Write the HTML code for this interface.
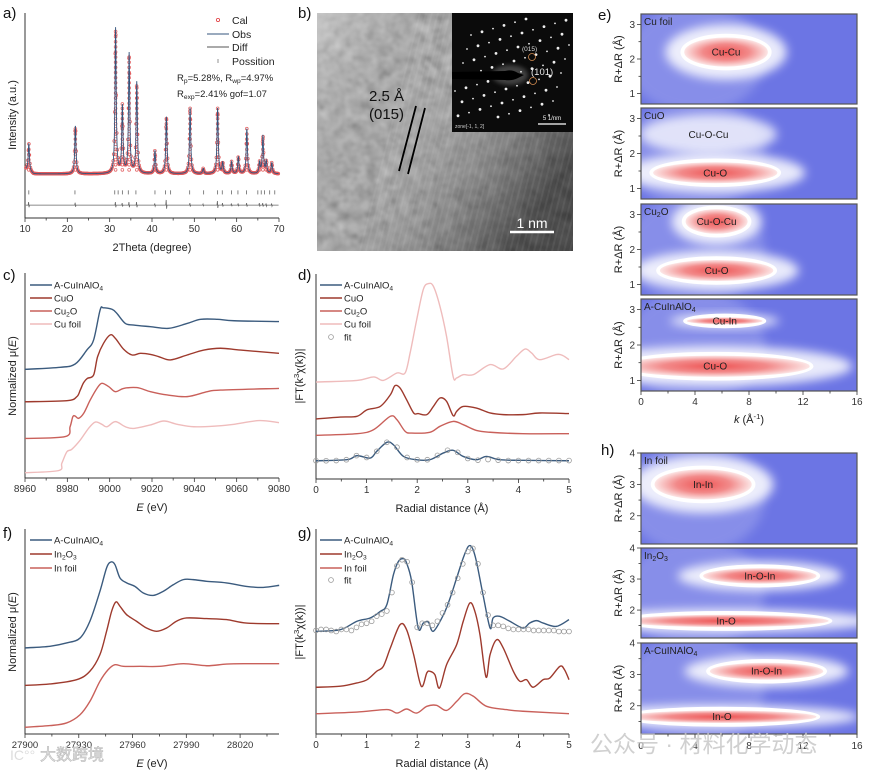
<!DOCTYPE html>
<html><head><meta charset="utf-8"><style>
html,body{margin:0;padding:0;background:#fff;}
svg{display:block;font-family:"Liberation Sans","Noto Sans CJK SC",sans-serif;}
</style></head><body>
<svg id="fig" width="869" height="775" viewBox="0 0 869 775">
<defs>
<filter id="blur5" x="-50%" y="-50%" width="200%" height="200%"><feGaussianBlur stdDeviation="5"/></filter>
<filter id="blur2" x="-50%" y="-50%" width="200%" height="200%"><feGaussianBlur stdDeviation="2"/></filter>
<filter id="tem" x="0" y="0" width="100%" height="100%"><feTurbulence type="fractalNoise" baseFrequency="0.09" numOctaves="2" seed="3"/><feColorMatrix type="matrix" values="0.33 0.33 0.33 0 0 0.33 0.33 0.33 0 0 0.33 0.33 0.33 0 0 0 0 0 0 1"/></filter>
<radialGradient id="redGrad"><stop offset="0" stop-color="#ee5555"/><stop offset="0.55" stop-color="#f28a8a"/><stop offset="1" stop-color="#fce6e6"/></radialGradient>
<linearGradient id="temShade" x1="0" y1="0" x2="1" y2="0.6"><stop offset="0" stop-color="#fff" stop-opacity="0.35"/><stop offset="0.45" stop-color="#888" stop-opacity="0"/><stop offset="1" stop-color="#000" stop-opacity="0.55"/></linearGradient>
</defs>
</svg>
<script>
// ---------- DATA ----------
const xrdPeakPos=[10.9,21.9,31.4,33.0,34.6,36.4,40.7,43.4,49.0,52.1,55.5,56.7,58.8,60.4,62.4,65.4,66.2,67.0,68.3];
const xrdPeakHeight=[35,45,92.5,54,80,66,32.7,49.3,53.7,24,53.7,26.8,27.3,29.8,43.4,26.8,40,27.3,26.8];
const xrdBaseline=21.5;
const xrdTickPos=[10.9,21.8,31.2,32,33,34.4,36.2,40.7,43.2,44.4,48.9,52.2,55.5,56.6,58.8,60.3,62.3,65,65.8,66.6,67.8,69];
const xrdDiffAmp=[1.5,1.2,1.5,1,1.5,1.5,0.8,2.5,1,0.5,2,1,0.8,0.8,1,1,1,0.8,0.8];
const xrdXTicks=[10,20,30,40,50,60,70];

const cX_blue=[8960,8976.6,8983.7,8989.2,8992.4,8995.5,8997.1,9001.1,9003.4,9007.4,9011.4,9019.3,9027.9,9036.6,9043,9050.9,9058.8,9080];
const cY_blue=[53,54,55.6,62.4,67.3,82,83,82.3,80.3,75.4,74.6,73.8,73,75.4,77.4,77.4,76.7,76.3];
const cX_cuo=[8960,8979.8,8984.5,8986.1,8987.7,8989.5,8992.4,8994.3,8997.1,9000.3,9002.7,9006.6,9010.6,9014.5,9019.3,9023.2,9028.7,9036.6,9044.5,9052.4,9061.9,9080];
const cY_cuo=[37.2,37.7,39.7,42.9,46.5,48.6,50.2,59.2,65.7,69.8,68.1,62.8,60,60.8,60.3,59.2,57.6,60,62.4,63.3,62.4,60.8];
const cX_cu2o=[8960,8979,8981.3,8982.6,8983.7,8985.3,8987.7,8990.8,8994,8996.3,8999.5,9002.7,9006.6,9012.9,9019.3,9027.2,9036.6,9046.1,9052.4,9080];
const cY_cu2o=[19.3,20.2,25,29.9,30.2,29.1,31.5,38,43.7,46.2,44.6,42.1,43.7,44.1,42.1,40.5,39.7,42.1,42.9,43.7];
const cX_cufoil=[8960,8975.8,8977.4,8979.8,8982.1,8986.1,8990,8993.2,8996.3,8998.7,9002.7,9007.4,9011.4,9019.3,9025.6,9031.9,9039.8,9050.9,9058.8,9070.6,9080];
const cY_cufoil=[2.6,3.6,7.2,12.8,14,18.5,24.2,27.3,26.2,25,27.5,25,24.2,25.9,27.8,26.2,25,25.4,26.2,28,27];
const cXTicks=[8960,8980,9000,9020,9040,9060,9080];

const dX_cufoil=[0,0.81,1.14,1.33,1.6,1.76,1.86,1.99,2.12,2.22,2.32,2.45,2.58,2.71,2.78,2.91,3.11,3.44,3.7,3.96,4.13,4.26,4.42,4.75,4.88,5];
const dY_cufoil=[47.3,48.1,49.8,48.1,51.7,51.7,61.5,77.7,92.4,95.3,94,84.2,69.6,50,49.3,50.9,50.9,55.8,53.7,59.8,63.4,61.5,58.2,60.7,60.2,58.2];
const dX_cuo=[0,0.48,0.81,1.01,1.27,1.47,1.56,1.66,1.79,1.93,2.02,2.19,2.32,2.45,2.58,2.71,2.78,2.91,3.17,3.44,3.7,4.09,4.42,5];
const dY_cuo=[29.3,30.2,30.6,33.8,35.4,41.1,45.5,44.4,38.7,32.2,31.9,31.4,35.4,39.5,37.9,30.9,33,35.4,34.6,32.2,31.4,31.4,32.2,31.9];
const dX_cu2o=[0,0.81,1.14,1.47,1.6,1.76,1.89,2.25,2.45,2.71,2.91,3.17,3.44,4.09,5];
const dY_cu2o=[21.3,22.1,24.1,30.6,28.9,23.3,22.4,22.8,25.7,28.1,26.5,23.7,22.8,22.1,22.1];
const dX_blue=[0,0.61,0.81,1.07,1.2,1.4,1.53,1.73,1.99,2.25,2.52,2.71,2.91,3.17,3.37,3.63,4.09,5];
const dY_blue=[8.9,9.4,11.4,10.2,13.5,17.9,16.7,11,9.4,9.4,12.7,14,11,9.4,11,9.4,9.1,8.9];
const dX_fit=[0,0.2,0.4,0.6,0.8,1.0,1.2,1.4,1.6,1.8,2.0,2.2,2.4,2.6,2.8,3.0,3.2,3.4,3.6,3.8,4.0,4.2,4.4,4.6,4.8,5.0];
const dY_fit=[8.9,8.9,9,9.4,11.4,10.5,13.5,17.9,15.5,10.5,9.4,9.4,11.5,14,13,10,9.2,9.5,9.2,9,9,9,9,9,9,9];
const rXTicks=[0,1,2,3,4,5];

const fX_blue=[27900,27913.9,27923.2,27930.7,27936.2,27941.8,27945.5,27947.9,27950.2,27953,27956.7,27961.3,27966,27971.5,27977.1,27982.7,27988.3,27993.8,28001.3,28012.4,28023.6,28032.9,28041.8];
const fY_blue=[42,42.8,44.4,46.8,55,69.6,81,83.9,82.6,76.1,73.7,72,68.8,67.6,69.6,72.8,75.3,75.3,74.5,73.7,72,71.5,72.5];
const fX_in2o3=[27900,27913.9,27928.8,27936.2,27941.8,27945.5,27948.3,27950.7,27953,27956.7,27962.2,27967.8,27973.4,27979,27984.5,27990.1,28001.3,28012.4,28023.6,28041.8];
const fY_in2o3=[23.7,24.4,26.5,30.6,38.7,50.1,59.8,64.4,62.3,58.2,55,51.7,50.1,51.7,55,56.6,56.3,55.8,54.1,53.8];
const fX_infoil=[27900,27913.9,27923.2,27930.7,27936.2,27941.8,27946.4,27950.2,27954.8,27964.1,27975.2,27988.3,28001.3,28012.4,28023.6,28041.8];
const fY_infoil=[3.3,4.1,5.4,9.4,15.9,25.7,31.4,33.8,33,33,33,34.3,33.3,34.1,34.3,34.3];
const fXTicks=[27900,27930,27960,27990,28020];

const gX_blue=[0,0.48,0.81,1.07,1.27,1.4,1.53,1.63,1.73,1.79,1.89,2.02,2.12,2.22,2.32,2.52,2.65,2.78,2.91,3.01,3.09,3.17,3.3,3.44,3.5,3.63,3.83,4.09,4.22,4.36,4.49,4.75,5];
const gY_blue=[50.1,50.9,55,56.6,59.8,63.1,77.7,84.2,85.5,83.4,74.5,51.7,54.1,54.6,50.1,58.2,66.3,76.1,85.9,91.5,90.7,84.2,68,51.7,56.6,57.4,55,51.7,54.1,55.3,54.1,52.5,55.8];
const gX_fit=[0,0.1,0.2,0.3,0.4,0.5,0.6,0.7,0.8,0.9,1.0,1.1,1.2,1.3,1.4,1.5,1.6,1.7,1.8,1.9,2.0,2.1,2.2,2.3,2.4,2.5,2.6,2.7,2.8,2.9,3.0,3.1,3.2,3.3,3.4,3.5,3.6,3.7,3.8,3.9,4.0,4.1,4.2,4.3,4.4,4.5,4.6,4.7,4.8,4.9,5.0];
const gY_fit=[50.5,51,51,50.5,50,51,51,50.5,52,53.5,54,55,57.5,58.5,60,69,82,85,84,74,52,54,54,53,55,59,63,69,76,83,89,90.5,83,69,58,53,53,52.5,51.5,51,51,51,51,50.5,50.5,50.5,50.5,50.5,50,50,50];
const gX_in2o3=[0,0.48,0.81,1.01,1.2,1.33,1.47,1.66,1.79,1.93,2.08,2.19,2.25,2.35,2.44,2.58,2.78,2.91,3.04,3.14,3.24,3.36,3.44,3.57,3.7,3.9,4.03,4.16,4.29,4.49,4.62,4.82,4.91,5];
const gY_in2o3=[22.8,23.3,24.9,26.5,30.6,33,42,53.3,50.9,38.7,23.3,29.8,30.6,28.9,22.4,33.8,43.6,55,63.9,59.8,48.5,27.8,38.7,46,42,30.6,25.7,26.5,22.8,26.5,27.3,33,31.4,26.5];
const gX_infoil=[0,0.81,1.4,1.6,1.79,1.99,2.19,2.38,2.58,2.78,2.94,3.11,3.37,3.76,4.09,5];
const gY_infoil=[9.9,10.7,11.9,10.2,12.2,10.2,13.5,14,11.5,15.9,19.7,18.4,13.5,11.9,11.1,9.9];

const eNames=['Cu foil','CuO','Cu2O','A-CuInAlO4'];
const eFeatPanel=[0,1,1,2,2,3,3];
const eFeatLabel=['Cu-Cu','Cu-O-Cu','Cu-O','Cu-O-Cu','Cu-O','Cu-In','Cu-O'];
const eFeatK=[6.3,5,5.5,5.6,5.6,6.2,5.5];
const eFeatR=[2.2,2.55,1.45,2.8,1.4,2.68,1.4];
const eFeatKw=[3.1,3.5,4.6,2.3,4.2,2.8,7.0];
const eFeatRw=[0.42,0.3,0.3,0.35,0.3,0.1,0.3];
const eFeatRed=[1,0,1,1,1,1,1];
const eKTicks=[0,4,8,12,16];
const eRTicks=[1,2,3];

const hNames=['In foil','In2O3','A-CuINAlO4'];
const hFeatPanel=[0,1,1,2,2];
const hFeatLabel=['In-In','In-O-In','In-O','In-O-In','In-O'];
const hFeatK=[4.6,8.8,6.3,9.3,6.0];
const hFeatR=[3.0,3.1,1.65,3.1,1.65];
const hFeatKw=[3.6,4.2,7.6,4.2,7.0];
const hFeatRw=[0.48,0.25,0.2,0.27,0.2];
const hFeatRed=[1,1,1,1,1];
const hRTicks=[2,3,4];

// ---------- HELPERS ----------
const NS='http://www.w3.org/2000/svg';
const svg=document.getElementById('fig');
function mk(tag,parent){const e=document.createElementNS(NS,tag);parent.appendChild(e);return e;}
function set(e,o){for(const k in o)e.setAttribute(k,o[k]);return e;}
function lin(d0,d1,r0,r1){return v=>r0+(v-d0)/(d1-d0)*(r1-r0);}
function smoothPath(pts){
  if(pts.length<2)return '';
  let d='M'+pts[0][0].toFixed(2)+','+pts[0][1].toFixed(2);
  for(let i=0;i<pts.length-1;i++){
    const p0=pts[Math.max(0,i-1)],p1=pts[i],p2=pts[i+1],p3=pts[Math.min(pts.length-1,i+2)];
    const c1=[p1[0]+(p2[0]-p0[0])/6,p1[1]+(p2[1]-p0[1])/6];
    const c2=[p2[0]-(p3[0]-p1[0])/6,p2[1]-(p3[1]-p1[1])/6];
    d+='C'+c1[0].toFixed(2)+','+c1[1].toFixed(2)+' '+c2[0].toFixed(2)+','+c2[1].toFixed(2)+' '+p2[0].toFixed(2)+','+p2[1].toFixed(2);
  }
  return d;
}
function txt(parent,x,y,s,size,anchor,fill){
  const t=mk('text',parent);
  set(t,{x:x,y:y,'font-size':size,'text-anchor':anchor||'start',fill:fill||'#222'});
  t.textContent=s;return t;
}
function subTxt(parent,x,y,parts,size,anchor){
  const t=mk('text',parent);
  set(t,{x:x,y:y,'font-size':size,'text-anchor':anchor||'start',fill:'#222'});
  parts.forEach(p=>{const s=mk('tspan',t);s.textContent=p[0];if(p[1]==='sub'){set(s,{'font-size':size*0.7,dy:2});}else if(p[1]==='back'){set(s,{dy:-2});}else if(p[1]==='sup'){set(s,{'font-size':size*0.7,dy:-4});}else if(p[1]==='supback'){set(s,{dy:4});}});
  return t;
}
function bottomAxis(g,x0,x1,yb,sx,ticks,minorStep,fmt){
  const ax=mk('path',g);
  
  
  set(ax,{d:`M${x0},${yb}H${x1}`,stroke:'#333','stroke-width':1,fill:'none'});
  const d0=ticks[0],d1=ticks[ticks.length-1];
  for(let v=d0;v<=d1+1e-9;v+=minorStep){
    const x=sx(v);const major=ticks.some(t=>Math.abs(t-v)<1e-6);
    const tk=mk('line',g);
    
    
    set(tk,{x1:x,x2:x,y1:yb,y2:yb+(major?4:2.5),stroke:'#333','stroke-width':0.8});
  }
  ticks.forEach(v=>{const t=txt(g,sx(v),yb+14,fmt?fmt(v):String(v),10,'middle','#333');
    
    });
}
function leftAxis(g,x,y0,y1){
  const ax=mk('path',g);
  
  
  set(ax,{d:`M${x},${y0}V${y1}`,stroke:'#333','stroke-width':1,fill:'none'});
}
function yTitle(g,x,yc,parts){
  const t=subTxt(g,0,0,parts,11,'middle');
  set(t,{transform:`translate(${x},${yc}) rotate(-90)`});
  
  
  return t;
}
function drawLine(g,xs,ys,sx,sy,color,w,name){
  const p=mk('path',g);
  
  
  set(p,{d:smoothPath(xs.map((x,i)=>[sx(x),sy(ys[i])])),stroke:color,'stroke-width':w||1.3,fill:'none'});
  return p;
}
function drawCircles(g,xs,ys,sx,sy,name){
  xs.forEach((x,i)=>{const c=mk('circle',g);
    
    
    set(c,{cx:sx(x),cy:sy(ys[i]),r:2.4,fill:'none',stroke:'#9a9a9a','stroke-width':0.8});});
}
function legendLine(g,x,y,color,parts){
  const l=mk('line',g);
  
  
  set(l,{x1:x,x2:x+22,y1:y,y2:y,stroke:color,'stroke-width':1.6});
  const t=subTxt(g,x+24,y+3.5,parts,9.5);
  
  
}
function legendCircle(g,x,y,label){
  const c=mk('circle',g);
  
  
  set(c,{cx:x+11,cy:y,r:2.4,fill:'none',stroke:'#999','stroke-width':0.8});
  const t=txt(g,x+24,y+3.5,label,9.5);
  
  
}
function panelLetter(x,y,s){const t=txt(svg,x,y,s,15,'start','#111');
  
  }

const BLUE='#3b5b7e',DRED='#9e3a2d',MRED='#c9605a',PINK='#efbcbc';
const chemCuInAl=[['A-CuInAlO',''],['4','sub']];

// ---------- PANEL A: XRD ----------
(function(){
  const g=mk('g',svg);
  
  
  const sx=lin(10,70,25,279), sy=lin(0,100,218,13);
  leftAxis(g,25,13,218);
  bottomAxis(g,25,279,218,sx,xrdXTicks,5);
  const tt=txt(g,152,251,'2Theta (degree)',11,'middle','#222');
  
  
  yTitle(g,16,115,[['Intensity (a.u.)','']]);
  function inten(x){let v=xrdBaseline+ (x<12?1.2*(12-x):0);
    xrdPeakPos.forEach((p,i)=>{const w=0.17;v+=(xrdPeakHeight[i]-xrdBaseline)/(1+((x-p)/w)**2);});return v;}
  const xs=[],ys=[];
  for(let x=10.2;x<=69.9;x+=0.04){xs.push(x);ys.push(inten(x));}
  const cg=mk('g',g);
  
  
  for(let i=0;i<xs.length;i+=3){const c=mk('circle',cg);
    
    
    set(c,{cx:sx(xs[i]).toFixed(2),cy:sy(ys[i]).toFixed(2),r:1.4,fill:'none',stroke:'#e05a5c','stroke-width':0.7});}
  xrdPeakPos.forEach((p,i)=>{for(let v=xrdBaseline+2;v<xrdPeakHeight[i];v+=2.5){const c=mk('circle',cg);
    
    
    set(c,{cx:sx(p).toFixed(2),cy:sy(v).toFixed(2),r:1.4,fill:'none',stroke:'#e05a5c','stroke-width':0.7});}});
  const ob=mk('path',g);
  
  
  set(ob,{d:'M'+xs.map((x,i)=>sx(x).toFixed(2)+','+sy(ys[i]).toFixed(2)).join('L'),stroke:'#34557d','stroke-width':0.9,fill:'none'});
  xrdTickPos.forEach(p=>{const l=mk('line',g);
    
    
    set(l,{x1:sx(p),x2:sx(p),y1:sy(13.5),y2:sy(11.5),stroke:'#666','stroke-width':0.8});});
  const dpts=[[10.2,6.3]];
  xrdPeakPos.forEach((p,i)=>{dpts.push([p-0.15,6.3]);dpts.push([p-0.05,6.3+xrdDiffAmp[i]]);dpts.push([p+0.05,6.3-xrdDiffAmp[i]*0.7]);dpts.push([p+0.15,6.3]);});
  dpts.push([69.9,6.3]);
  const df=mk('path',g);
  
  
  set(df,{d:'M'+dpts.map(p=>sx(p[0]).toFixed(2)+','+sy(p[1]).toFixed(2)).join('L'),stroke:'#666','stroke-width':0.8,fill:'none'});
  const lg=mk('g',g);
  
  
  const c0=mk('circle',lg);
  set(c0,{cx:218,cy:20,r:1.6,fill:'none',stroke:'#e0383c','stroke-width':0.8});
  txt(lg,232,24,'Cal',10.5);
  const l1=mk('line',lg);
  set(l1,{x1:207,x2:229,y1:34,y2:34,stroke:'#34557d','stroke-width':1});
  txt(lg,232,38,'Obs',10.5);
  const l2=mk('line',lg);
  set(l2,{x1:207,x2:229,y1:47,y2:47,stroke:'#555','stroke-width':1});
  txt(lg,232,51,'Diff',10.5);
  const l3=mk('line',lg);
  set(l3,{x1:218,x2:218,y1:59,y2:63,stroke:'#777','stroke-width':0.8});
  txt(lg,232,65,'Possition',10.5);
  const r1=subTxt(lg,177,81,[['R',''],['p','sub'],['=5.28%, R','back'],['wp','sub'],['=4.97%','back']],9.5);
  
  const r2=subTxt(lg,177,97,[['R',''],['exp','sub'],['=2.41% gof=1.07','back']],9.5);
  
})();
panelLetter(3,18,'a)');

// ---------- PANEL B: TEM ----------
(function(){
  const g=mk('g',svg);
  
  
  const bg=mk('rect',g);
  set(bg,{x:317,y:13,width:256,height:238,fill:'#8a8a8a'});
  const n=mk('rect',g);
  set(n,{x:317,y:13,width:256,height:238,filter:'url(#tem)',opacity:0.6});
  const sh=mk('rect',g);
  set(sh,{x:317,y:13,width:256,height:238,fill:'url(#temShade)'});
  for(let i=0;i<40;i++){const l=mk('line',g);
    const x=380+i*6;set(l,{x1:x+40,y1:13,x2:x-20,y2:251,stroke:'#fff','stroke-opacity':0.06,'stroke-width':2});}
  const ins=mk('rect',g);
  set(ins,{x:452,y:13,width:121,height:119,fill:'#0b0b0b'});
  const halo=mk('ellipse',g);
  set(halo,{cx:510,cy:75,rx:18,ry:10,fill:'#777',opacity:0.5,filter:'url(#blur2)'});
  for(let r=-4;r<=4;r++){for(let j=-5;j<=5;j++){
    const cx=510+j*11+r*-4, cy=75+r*14+j*-3.2;
    if(cx<455||cx>570||cy<16||cy>118)continue;
    const d=mk('circle',g);
    set(d,{cx:cx,cy:cy,r:(j%2===0?1.4:0.9),fill:'#eee'});}}
  const st=mk('path',g);
  set(st,{d:'M452,72L505,71Q512,69 518,73L524,75L518,78Q512,81 505,80L452,79Z',fill:'#000'});
  const c1=mk('circle',g);
  set(c1,{cx:532,cy:57,r:3.5,fill:'none',stroke:'#d08a50','stroke-width':0.8});
  const c2=mk('circle',g);
  set(c2,{cx:533,cy:81,r:3.5,fill:'none',stroke:'#d08a50','stroke-width':0.8});
  txt(g,522,51,'(015)',6.5,'start','#ddd');
  txt(g,531,75,'(101)',9.5,'start','#eee');
  txt(g,455,128,'zone[-1, 1, 2]',5,'start','#ccc');
  const sb=mk('line',g);
  set(sb,{x1:538,x2:566,y1:124,y2:124,stroke:'#fff','stroke-width':1.2});
  txt(g,552,120,'5 1/nm',6,'middle','#eee');
  txt(g,369,101,'2.5 Å',15,'start','#111');
  txt(g,369,119,'(015)',15,'start','#111');
  const m1=mk('line',g);
  set(m1,{x1:416,y1:106,x2:399,y2:171,stroke:'#000','stroke-width':1.8});
  const m2=mk('line',g);
  set(m2,{x1:425,y1:108,x2:408,y2:174,stroke:'#000','stroke-width':1.8});
  const s2=mk('line',g);
  set(s2,{x1:510,x2:554,y1:232,y2:232,stroke:'#fff','stroke-width':2.5});
  txt(g,532,228,'1 nm',14,'middle','#fff');
})();
panelLetter(298,18,'b)');

// ---------- PANEL C ----------
(function(){
  const g=mk('g',svg);
  
  
  const sx=lin(8960,9080,25,279), sy=lin(0,100,478,273);
  leftAxis(g,25,273,478);
  bottomAxis(g,25,279,478,sx,cXTicks,10);
  const t=subTxt(g,152,511,[['E','i'],[' (eV)','']],11,'middle');
  t.firstChild.setAttribute('font-style','italic');
  
  const yt=yTitle(g,16,376,[['Normalized μ(',''],['E',''],[')','']]);
  yt.childNodes[1].setAttribute('font-style','italic');
  drawLine(g,cX_cufoil,cY_cufoil,sx,sy,PINK,1.4,'cu-foil-line');
  drawLine(g,cX_cu2o,cY_cu2o,sx,sy,MRED,1.4,'cu2o-line');
  drawLine(g,cX_cuo,cY_cuo,sx,sy,DRED,1.4,'cuo-line');
  drawLine(g,cX_blue,cY_blue,sx,sy,BLUE,1.4,'a-cuinalo4-line');
  legendLine(g,30,285,BLUE,chemCuInAl);
  legendLine(g,30,298,DRED,[['CuO','']]);
  legendLine(g,30,311,MRED,[['Cu',''],['2','sub'],['O','back']]);
  legendLine(g,30,324,PINK,[['Cu foil','']]);
})();
panelLetter(3,280,'c)');

// ---------- PANEL D ----------
(function(){
  const g=mk('g',svg);
  
  
  const sx=lin(0,5,316,569), sy=lin(0,100,479,274);
  leftAxis(g,316,274,479);
  bottomAxis(g,316,569,479,sx,rXTicks,0.5);
  const t=txt(g,442,512,'Radial distance (Å)',11,'middle');
  
  yTitle(g,303,376,[['|FT(',''],['k',''],['3','sup'],['χ(','supback'],['k',''],['))|','']]);
  drawLine(g,dX_cufoil,dY_cufoil,sx,sy,PINK,1.4,'cu-foil-ft-line');
  drawLine(g,dX_cuo,dY_cuo,sx,sy,DRED,1.4,'cuo-ft-line');
  drawLine(g,dX_cu2o,dY_cu2o,sx,sy,MRED,1.4,'cu2o-ft-line');
  drawLine(g,dX_blue,dY_blue,sx,sy,BLUE,1.4,'a-cuinalo4-ft-line');
  drawCircles(g,dX_fit,dY_fit,sx,sy,'fit-point');
  legendLine(g,320,285,BLUE,chemCuInAl);
  legendLine(g,320,298,DRED,[['CuO','']]);
  legendLine(g,320,311,MRED,[['Cu',''],['2','sub'],['O','back']]);
  legendLine(g,320,324,PINK,[['Cu foil','']]);
  legendCircle(g,320,337,'fit');
})();
panelLetter(298,280,'d)');

// ---------- PANEL F ----------
(function(){
  const g=mk('g',svg);
  
  
  const sx=lin(27900,28041.7,25,279), sy=lin(0,100,734,529);
  leftAxis(g,25,529,734);
  const ticks=[27900,27915,27930,27945,27960,27975,27990,28005,28020,28035];
  const ax=mk('path',g);
  set(ax,{d:'M25,734H279',stroke:'#333','stroke-width':1});
  ticks.forEach(v=>{const major=fXTicks.includes(v);const l=mk('line',g);
    
    
    set(l,{x1:sx(v),x2:sx(v),y1:734,y2:734+(major?4:2.5),stroke:'#333','stroke-width':0.8});});
  fXTicks.forEach(v=>{const t=txt(g,sx(v),748,String(v),9.5,'middle','#333');
    });
  const t=subTxt(g,152,767,[['E',''],[' (eV)','']],11,'middle');
  t.firstChild.setAttribute('font-style','italic');
  
  const yt=yTitle(g,16,632,[['Normalized μ(',''],['E',''],[')','']]);
  yt.childNodes[1].setAttribute('font-style','italic');
  drawLine(g,fX_infoil,fY_infoil,sx,sy,MRED,1.4,'in-foil-line');
  drawLine(g,fX_in2o3,fY_in2o3,sx,sy,DRED,1.4,'in2o3-line');
  drawLine(g,fX_blue,fY_blue,sx,sy,BLUE,1.4,'a-cuinalo4-in-line');
  legendLine(g,30,540,BLUE,chemCuInAl);
  legendLine(g,30,554,DRED,[['In',''],['2','sub'],['O','back'],['3','sub']]);
  legendLine(g,30,568,MRED,[['In foil','']]);
})();
panelLetter(3,538,'f)');

// ---------- PANEL G ----------
(function(){
  const g=mk('g',svg);
  
  
  const sx=lin(0,5,316,569), sy=lin(0,100,734,529);
  leftAxis(g,316,529,734);
  bottomAxis(g,316,569,734,sx,rXTicks,0.5);
  const t=txt(g,442,767,'Radial distance (Å)',11,'middle');
  
  yTitle(g,303,632,[['|FT(',''],['k',''],['3','sup'],['χ(','supback'],['k',''],['))|','']]);
  drawLine(g,gX_infoil,gY_infoil,sx,sy,MRED,1.4,'in-foil-ft-line');
  drawLine(g,gX_in2o3,gY_in2o3,sx,sy,DRED,1.4,'in2o3-ft-line');
  drawLine(g,gX_blue,gY_blue,sx,sy,BLUE,1.4,'a-cuinalo4-in-ft-line');
  drawCircles(g,gX_fit,gY_fit,sx,sy,'fit-point');
  legendLine(g,320,540,BLUE,chemCuInAl);
  legendLine(g,320,554,DRED,[['In',''],['2','sub'],['O','back'],['3','sub']]);
  legendLine(g,320,568,MRED,[['In foil','']]);
  legendCircle(g,320,580,'fit');
})();
panelLetter(298,538,'g)');

// ---------- WAVELET PANELS ----------
let clipId=0;
function wavelet(g,x0,x1,y0,y1,rMin,rMax,rTicks,name,fp,fl,fk,fr,fkw,frw,fred,idx,nameParts){
  const sk=lin(0,16,x0,x1), sr=lin(rMin,rMax,y1,y0);
  const pg=mk('g',g);
  
  
  const cp=mk('clipPath',pg);const cid='wc'+(clipId++);cp.setAttribute('id',cid);
  const cr=mk('rect',cp);set(cr,{x:x0,y:y0,width:x1-x0,height:y1-y0});
  const inner=mk('g',pg);inner.setAttribute('clip-path','url(#'+cid+')');
  const bg=mk('rect',inner);
  set(bg,{x:x0,y:y0,width:x1-x0,height:y1-y0,fill:'#6c75e4'});
  const lt=mk('ellipse',inner);
  set(lt,{cx:sk(4),cy:(y0+y1)/2,rx:70,ry:(y1-y0)*0.6,fill:'#a9aef0',opacity:0.45,filter:'url(#blur5)'});
  fp.forEach((p,i)=>{if(p!==idx)return;
    const cx=sk(fk[i]),cy=sr(fr[i]),rx=sk(fkw[i])-sk(0),ry=sr(0)-sr(frw[i]);
    const h=mk('ellipse',inner);
    set(h,{cx:cx,cy:cy,rx:rx*1.45,ry:ry*1.9,fill:'#fff',opacity:fred[i]?0.85:0.75,filter:'url(#blur5)'});});
  fp.forEach((p,i)=>{if(p!==idx||!fred[i])return;
    const cx=sk(fk[i]),cy=sr(fr[i]),rx=sk(fkw[i])-sk(0),ry=sr(0)-sr(frw[i]);
    const c=mk('ellipse',inner);
    set(c,{cx:cx,cy:cy,rx:rx+3,ry:ry+3,fill:'#fff',stroke:'#fff','stroke-width':1.5});
    const r=mk('ellipse',inner);
    set(r,{cx:cx,cy:cy,rx:rx,ry:ry,fill:'url(#redGrad)'});});
  fp.forEach((p,i)=>{if(p!==idx)return;
    const t=txt(inner,sk(fk[i]),sr(fr[i])+3.5,fl[i],10,'middle','#222');
    });
  const fr2=mk('rect',pg);
  set(fr2,{x:x0,y:y0,width:x1-x0,height:y1-y0,fill:'none',stroke:'#555','stroke-width':1.2});
  const nt=subTxt(pg,x0+3,y0+11,nameParts,10);
  
  for(let v=Math.ceil(rMin*2)/2;v<=rMax+1e-6;v+=0.5){const major=Math.abs(v-Math.round(v))<1e-6;
    const l=mk('line',pg);
    set(l,{x1:x0,x2:x0-(major?4:2.5),y1:sr(v),y2:sr(v),stroke:'#333','stroke-width':0.8});}
  rTicks.forEach(v=>{const t=txt(pg,x0-6,sr(v)+3.5,String(v),10,'end','#333');
    });
  const yt=mk('text',pg);set(yt,{'font-size':11,'text-anchor':'middle',fill:'#222',transform:`translate(${x0-19},${(y0+y1)/2}) rotate(-90)`});
  yt.textContent='R+ΔR (Å)';
  
}
const nameMap={'Cu foil':[['Cu foil','']],'CuO':[['CuO','']],'Cu2O':[['Cu',''],['2','sub'],['O','back']],'A-CuInAlO4':[['A-CuInAlO',''],['4','sub']],'In foil':[['In foil','']],'In2O3':[['In',''],['2','sub'],['O','back'],['3','sub']],'A-CuINAlO4':[['A-CuINAlO',''],['4','sub']]};
(function(){
  const g=mk('g',svg);
  
  
  const ys=[[14,104],[108,199],[204,295],[299,391]];
  eNames.forEach((n,i)=>wavelet(g,641,857,ys[i][0],ys[i][1],0.7,3.3,eRTicks,n,eFeatPanel,eFeatLabel,eFeatK,eFeatR,eFeatKw,eFeatRw,eFeatRed,i,nameMap[n]));
  const sk=lin(0,16,641,857);
  for(let v=0;v<=16;v+=2){const major=v%4===0;const l=mk('line',g);
    
    set(l,{x1:sk(v),x2:sk(v),y1:391,y2:391+(major?4:2.5),stroke:'#333','stroke-width':0.8});}
  eKTicks.forEach(v=>{const t=txt(g,sk(v),405,String(v),10,'middle','#333');
    });
  const t=subTxt(g,749,423,[['k',''],[' (Å',''],['-1','sup'],[')','supback']],11,'middle');
  t.firstChild.setAttribute('font-style','italic');
  
})();
panelLetter(598,20,'e)');
(function(){
  const g=mk('g',svg);
  
  
  const ys=[[453,544],[548,638],[643,734]];
  hNames.forEach((n,i)=>wavelet(g,641,857,ys[i][0],ys[i][1],1.1,4,hRTicks,n,hFeatPanel,hFeatLabel,hFeatK,hFeatR,hFeatKw,hFeatRw,hFeatRed,i,nameMap[n]));
  const sk=lin(0,16,641,857);
  for(let v=0;v<=16;v+=2){const major=v%4===0;const l=mk('line',g);
    
    set(l,{x1:sk(v),x2:sk(v),y1:734,y2:734+(major?4:2.5),stroke:'#333','stroke-width':0.8});}
  eKTicks.forEach(v=>{const t=txt(g,sk(v),749,String(v),10,'middle','#333');
    });
})();
panelLetter(601,455,'h)');

(function(){
  const w1=txt(svg,590,752,'公众号 · 材料化学动态',23,'start','#c8c8c8');
  
  w1.setAttribute('opacity','0.85');
  const w2=txt(svg,40,760,'大数跨境',16,'start','#e4e4e4');
  
  w2.setAttribute('stroke','#bbb');w2.setAttribute('stroke-width','0.6');
  const w3=txt(svg,10,760,'IC°°',14,'start','#ddd');
  
})();
</script>
</body></html>
